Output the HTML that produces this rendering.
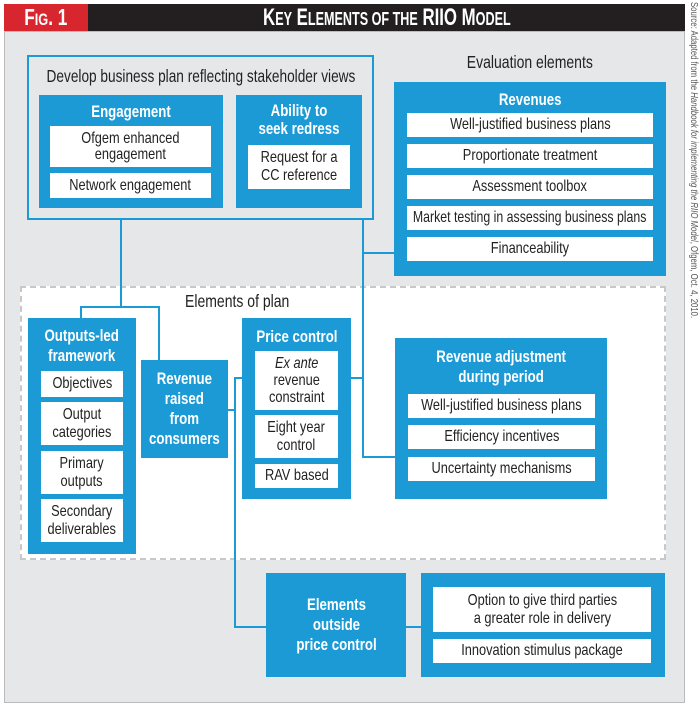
<!DOCTYPE html>
<html><head><meta charset="utf-8"><style>
*{margin:0;padding:0;box-sizing:border-box}
body{width:700px;height:705px;background:#fff;position:relative;overflow:hidden;font-family:"Liberation Sans",Arial,sans-serif}
.a{position:absolute}
.c{position:absolute;display:flex;justify-content:center;font-size:17.5px;color:#222;white-space:nowrap}
.b{position:absolute;background:#1b9ad6}
.w{position:absolute;background:#fff;color:#222;display:flex;align-items:center;justify-content:center;text-align:center;font-size:16px;line-height:18px}
.t{position:absolute;color:#fff;font-weight:bold;display:flex;align-items:center;justify-content:center;text-align:center;font-size:17px;line-height:20px}
.n{display:inline-block;transform:scaleX(.8);white-space:nowrap;flex:none}
.t .n{transform:scaleX(.78)}
.h{position:absolute;background:#1b9ad6;height:2px}
.v{position:absolute;background:#1b9ad6;width:2px}
</style></head><body>
<div class="a" style="left:4px;top:31px;width:681px;height:672px;background:#e6e7e8;border:1px solid #bbb"></div>
<div class="a" style="left:4px;top:4px;width:84px;height:27px;background:#d7262e;color:#fff;font-weight:bold;font-size:23px;display:flex;align-items:center;justify-content:center"><span class="n" style="transform:scaleX(.75)">F<span style="font-size:17px">IG</span>. 1</span></div>
<div class="a" style="left:88px;top:4px;width:597px;height:27px;background:#231f20;color:#fff;font-weight:bold;font-size:24px;display:flex;align-items:center;justify-content:center"><span class="n" style="transform:scaleX(.7)">K<span style="font-size:18px">EY</span> E<span style="font-size:18px">LEMENTS OF THE</span> RIIO M<span style="font-size:18px">ODEL</span></span></div>
<div class="a" style="left:688px;top:2px;width:12px;height:360px;overflow:hidden"><div style="transform:rotate(90deg) scaleX(.74);transform-origin:0 0;position:absolute;left:12px;top:0;white-space:nowrap;font-size:10.5px;color:#555;width:450px">Source: Adapted from the <i>Handbook for implementing the RIIO Model</i>, Ofgem, Oct. 4, 2010.</div></div>

<div class="a" style="left:20px;top:286px;width:646px;height:274px;background:#fff;border:2px dashed #c8c8c8"></div>

<div class="a" style="left:27px;top:55px;width:347px;height:165px;border:2px solid #1b9ad6"></div>
<div class="c" style="left:27px;top:66px;width:347px"><span class="n" style="transform:scaleX(.78)">Develop business plan reflecting stakeholder views</span></div>
<div class="b" style="left:39px;top:95px;width:184px;height:113px"></div>
<div class="t" style="left:39px;top:101px;width:184px;height:22px"><span class="n">Engagement</span></div>
<div class="w" style="left:50px;top:126px;width:161px;height:41px;line-height:16px"><span class="n">Ofgem enhanced<br>engagement</span></div>
<div class="w" style="left:50px;top:173px;width:161px;height:25px"><span class="n">Network engagement</span></div>
<div class="b" style="left:236px;top:95px;width:126px;height:113px"></div>
<div class="t" style="left:236px;top:100px;width:126px;height:40px;line-height:18px"><span class="n">Ability to<br>seek redress</span></div>
<div class="w" style="left:248px;top:145px;width:102px;height:44px"><span class="n">Request for a<br>CC reference</span></div>

<div class="c" style="left:394px;top:52px;width:272px"><span class="n">Evaluation elements</span></div>
<div class="b" style="left:394px;top:82px;width:272px;height:194px"></div>
<div class="t" style="left:394px;top:89px;width:272px;height:22px"><span class="n">Revenues</span></div>
<div class="w" style="left:407px;top:113px;width:246px;height:24px"><span class="n">Well-justified business plans</span></div>
<div class="w" style="left:407px;top:144px;width:246px;height:24px"><span class="n">Proportionate treatment</span></div>
<div class="w" style="left:407px;top:175px;width:246px;height:24px"><span class="n">Assessment toolbox</span></div>
<div class="w" style="left:407px;top:206px;width:246px;height:24px"><span class="n" style="transform:scaleX(.77)">Market testing in assessing business plans</span></div>
<div class="w" style="left:407px;top:237px;width:246px;height:24px"><span class="n">Financeability</span></div>

<div class="c" style="left:137px;top:291px;width:200px"><span class="n">Elements of plan</span></div>

<div class="b" style="left:28px;top:318px;width:108px;height:236px"></div>
<div class="t" style="left:28px;top:326px;width:108px;height:40px"><span class="n">Outputs-led<br>framework</span></div>
<div class="w" style="left:41px;top:371px;width:82px;height:26px"><span class="n">Objectives</span></div>
<div class="w" style="left:41px;top:402px;width:82px;height:43px"><span class="n">Output<br>categories</span></div>
<div class="w" style="left:41px;top:451px;width:82px;height:43px"><span class="n">Primary<br>outputs</span></div>
<div class="w" style="left:41px;top:499px;width:82px;height:43px"><span class="n">Secondary<br>deliverables</span></div>

<div class="b" style="left:141px;top:360px;width:87px;height:98px"></div>
<div class="t" style="left:141px;top:360px;width:87px;height:98px"><span class="n">Revenue<br>raised<br>from<br>consumers</span></div>

<div class="b" style="left:242px;top:318px;width:109px;height:181px"></div>
<div class="t" style="left:242px;top:326px;width:109px;height:22px"><span class="n">Price control</span></div>
<div class="w" style="left:255px;top:351px;width:83px;height:59px;line-height:17px"><span class="n"><i>Ex ante</i><br>revenue<br>constraint</span></div>
<div class="w" style="left:255px;top:415px;width:83px;height:43px"><span class="n">Eight year<br>control</span></div>
<div class="w" style="left:255px;top:464px;width:83px;height:24px"><span class="n">RAV based</span></div>

<div class="b" style="left:395px;top:338px;width:212px;height:161px"></div>
<div class="t" style="left:395px;top:347px;width:212px;height:40px"><span class="n">Revenue adjustment<br>during period</span></div>
<div class="w" style="left:408px;top:394px;width:187px;height:24px"><span class="n">Well-justified business plans</span></div>
<div class="w" style="left:408px;top:425px;width:187px;height:24px"><span class="n">Efficiency incentives</span></div>
<div class="w" style="left:408px;top:457px;width:187px;height:24px"><span class="n">Uncertainty mechanisms</span></div>

<div class="b" style="left:266px;top:573px;width:140px;height:104px"></div>
<div class="t" style="left:266px;top:573px;width:140px;height:104px"><span class="n">Elements<br>outside<br>price control</span></div>
<div class="b" style="left:421px;top:573px;width:244px;height:104px"></div>
<div class="w" style="left:433px;top:587px;width:218px;height:45px"><span class="n">Option to give third parties<br>a greater role in delivery</span></div>
<div class="w" style="left:433px;top:639px;width:218px;height:24px"><span class="n">Innovation stimulus package</span></div>

<div class="v" style="left:120px;top:220px;height:88px"></div>
<div class="h" style="left:80px;top:306px;width:80px"></div>
<div class="v" style="left:80px;top:306px;height:12px"></div>
<div class="v" style="left:158px;top:306px;height:54px"></div>
<div class="h" style="left:228px;top:409px;width:8px"></div>
<div class="v" style="left:234px;top:377px;height:251px"></div>
<div class="h" style="left:234px;top:377px;width:8px"></div>
<div class="h" style="left:234px;top:626px;width:32px"></div>
<div class="h" style="left:406px;top:626px;width:15px"></div>
<div class="v" style="left:362px;top:220px;height:238px"></div>
<div class="h" style="left:362px;top:252px;width:32px"></div>
<div class="h" style="left:351px;top:377px;width:12px"></div>
<div class="h" style="left:362px;top:456px;width:33px"></div>
</body></html>
